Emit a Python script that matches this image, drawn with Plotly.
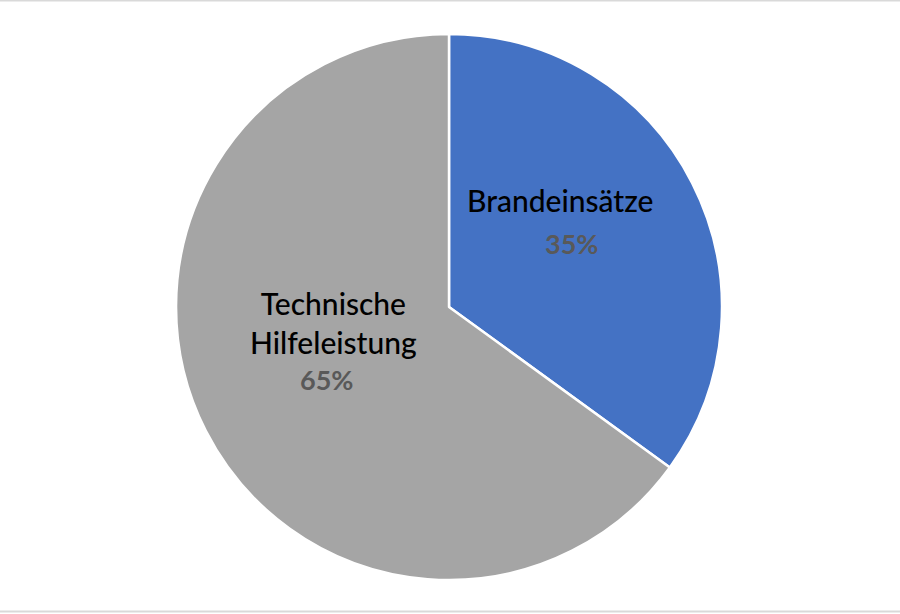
import plotly.graph_objects as go

labels = ["Brandeinsätze", "Technische<br>Hilfeleistung"]
values = [35, 65]
colors = ["#4472C4", "#A5A5A5"]

# label anchor points (pixel coords of the 900x614 page): name, percent
name_pos = [(560, 200), (333, 322)]
pct_pos = [(571, 244), (326, 379)]

W, H = 900, 614
total = sum(values)

fig = go.Figure(
    go.Pie(
        labels=labels,
        values=values,
        sort=False,
        direction="clockwise",
        rotation=0,
        marker=dict(colors=colors, line=dict(color="white", width=2.5)),
        textinfo="none",
        domain=dict(x=[0.1956, 0.8022], y=[0.0554, 0.9446]),
        showlegend=False,
        hoverinfo="label+percent",
    )
)

annotations = []
for lab, val, (nx, ny), (px, py) in zip(labels, values, name_pos, pct_pos):
    annotations.append(dict(
        text=lab, x=nx / W, y=1 - ny / H, xref="paper", yref="paper",
        showarrow=False, xanchor="center", yanchor="middle",
        font=dict(family="Lato", size=30, color="black", weight=500),
    ))
    annotations.append(dict(
        text="<b>%d%%</b>" % round(100 * val / total), x=px / W, y=1 - py / H,
        xref="paper", yref="paper", showarrow=False,
        xanchor="center", yanchor="middle",
        font=dict(family="Lato", size=27, color="#595959"),
    ))

fig.update_layout(
    width=W,
    height=H,
    margin=dict(l=0, r=0, t=0, b=0),
    paper_bgcolor="white",
    annotations=annotations,
    shapes=[
        dict(type="line", xref="paper", yref="paper", x0=0, x1=1, y0=0.999, y1=0.999,
             line=dict(color="#D9D9D9", width=2)),
        dict(type="line", xref="paper", yref="paper", x0=0, x1=1, y0=0.004, y1=0.004,
             line=dict(color="#D9D9D9", width=2)),
    ],
)

fig.write_html(
    "out.html",
    config={"displayModeBar": False},
    post_script="document.body.style.margin='0';document.body.style.overflow='hidden';",
)
